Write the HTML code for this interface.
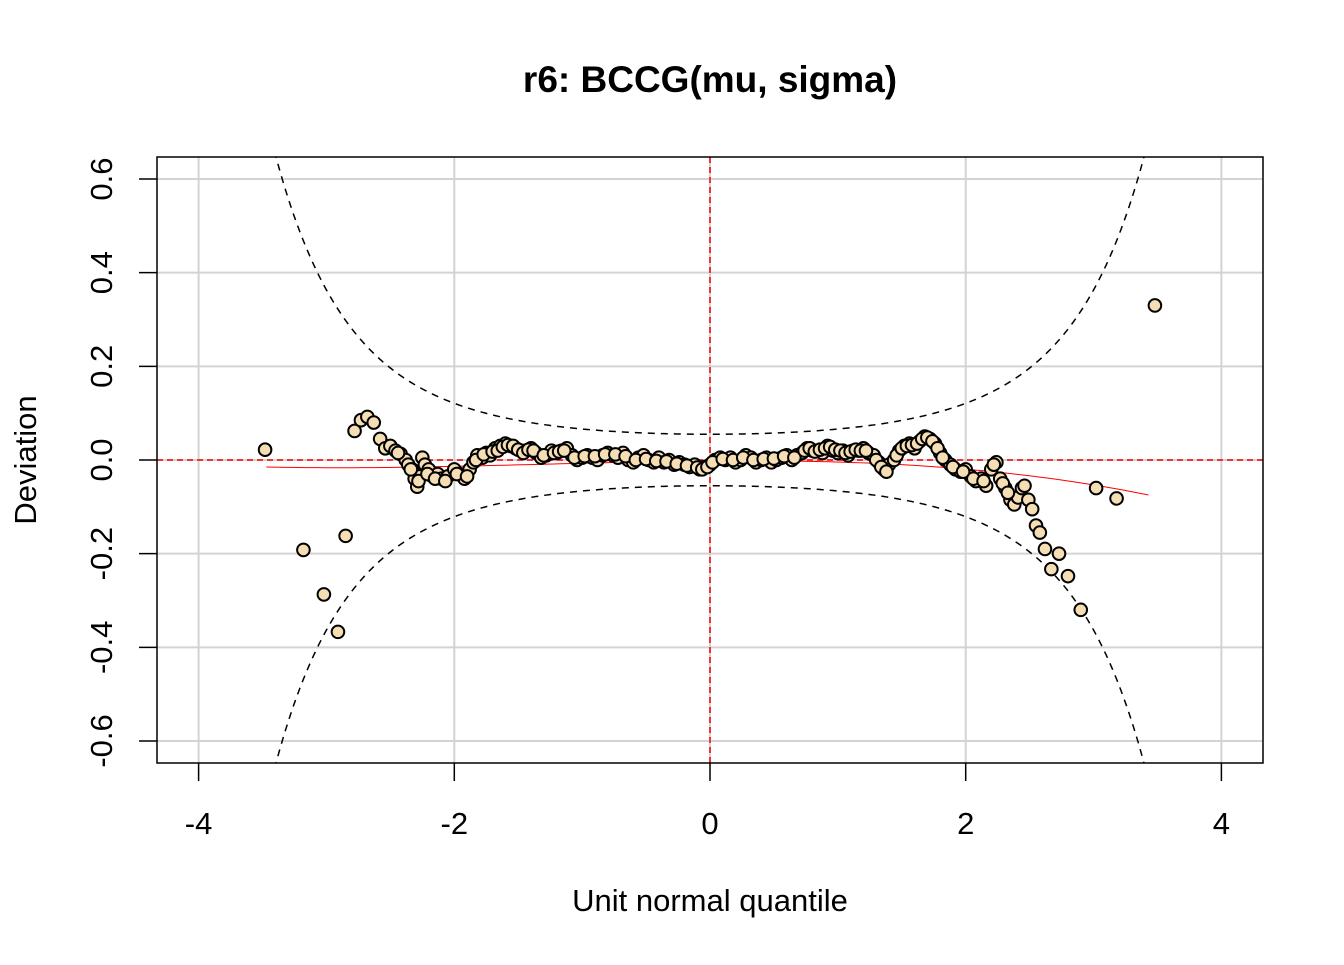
<!DOCTYPE html>
<html><head><meta charset="utf-8"><style>
body{margin:0;background:#fff;}
svg text{font-family:"Liberation Sans",Arial,sans-serif;}
</style></head><body>
<svg id="chart" width="1344" height="960" viewBox="0 0 1344 960" xmlns="http://www.w3.org/2000/svg">
<defs><clipPath id="clip"><rect x="157" y="157" width="1106" height="606"/></clipPath></defs>
<rect width="1344" height="960" fill="#fff"/>
<text x="710" y="92" text-anchor="middle" font-size="37" font-weight="bold">r6: BCCG(mu, sigma)</text>
<text x="710" y="911" text-anchor="middle" font-size="31">Unit normal quantile</text>
<text transform="translate(36,460) rotate(-90)" text-anchor="middle" font-size="31">Deviation</text>
<g id="grid"></g>
<g id="refs"></g>
<g id="bands" clip-path="url(#clip)"></g>
<g id="fit" clip-path="url(#clip)"></g>
<g id="pts"></g>
<rect x="157" y="157" width="1106" height="606" fill="none" stroke="#000" stroke-width="1.5"/>
<g id="axes"></g>
</svg>
<script>
const xTicks=[-4,-2,0,2,4];
const yTicks=[-0.6,-0.4,-0.2,0.0,0.2,0.4,0.6];
const yTickLabels=["-0.6","-0.4","-0.2","0.0","0.2","0.4","0.6"];
const ptX=[-3.48,-3.18,-3.02,-2.91,-2.85,-2.78,-2.73,-2.68,-2.63,-2.58,-2.54,-2.5,-2.46,-2.42,-2.38,-2.36,-2.33,-2.31,-2.29,-2.27,-2.25,-2.23,-2.2,-2.17,-2.13,-2.1,-2.05,-2.0,-1.96,-1.92,-1.88,-1.85,-1.82,-1.78,-1.75,-1.72,-1.68,-1.64,-1.6,-1.56,-1.52,-1.48,-1.44,-1.4,-1.36,-1.32,-1.28,-1.24,-1.2,-1.16,-1.12,-1.08,-1.04,-1.0,-0.96,-0.92,-0.88,-0.84,-0.8,-0.76,-0.72,-0.68,-0.64,-0.6,-0.56,-0.52,-0.48,-0.44,-0.4,-0.36,-0.32,-0.28,-0.24,-0.2,-0.16,-0.12,-0.08,-0.04,0.0,0.04,0.08,0.12,0.16,0.2,0.24,0.28,0.32,0.36,0.4,0.44,0.48,0.52,0.56,0.6,0.64,0.68,0.72,0.76,0.8,0.84,0.88,0.92,0.96,1.0,1.04,1.08,1.12,1.16,1.2,1.24,1.28,1.32,1.36,1.4,1.44,1.48,1.52,1.56,1.6,1.64,1.68,1.72,1.76,1.8,1.84,1.88,1.92,1.96,2.0,2.04,2.08,2.12,2.16,2.2,2.24,2.27,2.31,2.35,2.38,2.41,2.44,2.46,2.49,2.52,2.55,2.58,2.62,2.67,2.73,2.8,2.9,3.02,3.18,3.48,
-2.44,-2.34,-2.28,-2.21,-2.15,-2.07,-1.98,-1.9,-1.83,-1.77,-1.7,-1.66,-1.62,-1.58,-1.54,-1.5,-1.46,-1.42,-1.38,-1.3,-1.22,-1.18,-1.14,-1.06,-0.98,-0.9,-0.82,-0.74,-0.66,-0.58,-0.5,-0.42,-0.34,-0.26,-0.18,-0.1,-0.06,-0.02,0.02,0.1,0.18,0.26,0.34,0.42,0.5,0.58,0.66,0.74,0.78,0.82,0.86,0.9,0.94,0.98,1.02,1.06,1.1,1.14,1.18,1.22,1.3,1.34,1.38,1.46,1.5,1.54,1.58,1.62,1.66,1.7,1.74,1.78,1.82,1.9,1.98,2.06,2.14,2.22,2.29,2.33];
const ptY=[0.022,-0.192,-0.287,-0.367,-0.162,0.062,0.085,0.092,0.08,0.045,0.025,0.03,0.02,0.013,0.0,-0.01,-0.02,-0.04,-0.057,-0.035,0.005,-0.01,-0.02,-0.035,-0.03,-0.04,-0.035,-0.02,-0.03,-0.04,-0.02,-0.005,0.01,0.005,0.015,0.01,0.025,0.03,0.035,0.03,0.025,0.02,0.02,0.025,0.015,0.005,0.01,0.02,0.015,0.02,0.025,0.01,0.0,0.005,0.01,0.005,0.0,0.01,0.015,0.01,0.005,0.015,0.0,-0.005,0.005,0.01,0.0,-0.005,0.005,-0.005,0.0,-0.01,-0.005,-0.01,-0.015,-0.01,-0.02,-0.015,-0.01,0.0,0.005,0.0,0.005,-0.005,0.0,0.01,0.005,-0.005,0.0,0.005,-0.005,0.0,0.005,0.01,0.0,0.01,0.015,0.025,0.02,0.02,0.015,0.03,0.02,0.015,0.02,0.01,0.02,0.02,0.025,0.015,0.01,-0.005,-0.02,-0.01,0.0,0.02,0.03,0.035,0.025,0.04,0.05,0.045,0.035,0.015,0.0,-0.01,-0.02,-0.025,-0.02,-0.035,-0.045,-0.04,-0.055,-0.02,-0.005,-0.04,-0.06,-0.085,-0.095,-0.08,-0.06,-0.055,-0.085,-0.105,-0.14,-0.155,-0.19,-0.233,-0.2,-0.248,-0.32,-0.06,-0.082,0.33,
0.015,-0.02,-0.045,-0.03,-0.04,-0.045,-0.03,-0.035,0.0,0.012,0.018,0.02,0.028,0.032,0.03,0.022,0.015,0.022,0.02,0.01,0.015,0.018,0.02,0.005,0.008,0.008,0.012,0.012,0.008,0.0,0.002,-0.002,-0.003,-0.008,-0.012,-0.016,-0.02,-0.015,-0.005,0.002,0.0,0.005,0.0,0.002,0.003,0.008,0.005,0.02,0.025,0.018,0.022,0.025,0.028,0.022,0.02,0.015,0.018,0.022,0.02,0.02,0.0,-0.015,-0.025,0.01,0.025,0.03,0.032,0.035,0.045,0.048,0.04,0.025,0.005,-0.015,-0.025,-0.04,-0.045,-0.01,-0.05,-0.07];
const fitCoef=[-0.002,0.0022,-0.00365,-0.000925];
const fitRange=[-3.47,3.47];
const nObs=2000;

const NS="http://www.w3.org/2000/svg";
const sx=v=>710+v*127.85, sy=v=>460-v*468.3;
function mk(tag,attrs,parent){const e=document.createElementNS(NS,tag);for(const k in attrs)e.setAttribute(k,attrs[k]);document.getElementById(parent).appendChild(e);return e;}
xTicks.forEach(t=>{
  const g=mk('line',{x1:sx(t),x2:sx(t),y1:157,y2:763,stroke:'#d3d3d3','stroke-width':2},'grid');
  
  
  const tk=mk('line',{x1:sx(t),x2:sx(t),y1:763,y2:781,stroke:'#000','stroke-width':1.5},'axes');
  
  
  const tx=mk('text',{x:sx(t),y:834,'text-anchor':'middle','font-size':31},'axes');
  tx.textContent=String(t);
  
  
});
yTicks.forEach((t,i)=>{
  const g=mk('line',{x1:157,x2:1263,y1:sy(t),y2:sy(t),stroke:'#d3d3d3','stroke-width':2},'grid');
  
  
  const tk=mk('line',{x1:139,x2:157,y1:sy(t),y2:sy(t),stroke:'#000','stroke-width':1.5},'axes');
  
  
  const tx=mk('text',{transform:`translate(112,${sy(t)}) rotate(-90)`,'text-anchor':'middle','font-size':31},'axes');
  tx.textContent=yTickLabels[i];
  
  
});
const h=mk('line',{x1:157,x2:1263,y1:sy(0),y2:sy(0),stroke:'#f00','stroke-width':1.5,'stroke-dasharray':'6,4'},'refs');


const v=mk('line',{x1:sx(0),x2:sx(0),y1:157,y2:763,stroke:'#f00','stroke-width':1.5,'stroke-dasharray':'6,4'},'refs');


function pnorm(z){const t=1/(1+0.2316419*Math.abs(z));const d=0.3989423*Math.exp(-z*z/2);let p=d*t*(0.3193815+t*(-0.3565638+t*(1.781478+t*(-1.821256+t*1.330274))));return z>0?1-p:p;}
function band(z){const p=pnorm(z);const d=Math.exp(-z*z/2)/Math.sqrt(2*Math.PI);return 1.96*Math.sqrt(p*(1-p)/nObs)/d;}
let up=[],lo=[];
for(let z=-3.6;z<=3.6;z+=0.02){up.push(sx(z)+','+sy(band(z)));lo.push(sx(z)+','+sy(-band(z)));}
const bu=mk('polyline',{points:up.join(' '),fill:'none',stroke:'#000','stroke-width':1.5,'stroke-dasharray':'7,6'},'bands');


const bl=mk('polyline',{points:lo.join(' '),fill:'none',stroke:'#000','stroke-width':1.5,'stroke-dasharray':'7,6'},'bands');


let fp=[];
for(let x=fitRange[0];x<=fitRange[1]+1e-9;x+=0.05){const y=fitCoef[0]+fitCoef[1]*x+fitCoef[2]*x*x+fitCoef[3]*x*x*x;fp.push(sx(x)+','+sy(y));}
const fl=mk('polyline',{points:fp.join(' '),fill:'none',stroke:'#f00','stroke-width':1},'fit');


ptX.forEach((x,i)=>{
  const c=mk('circle',{cx:sx(x),cy:sy(ptY[i]),r:6.3,fill:'#f5deb3',stroke:'#000','stroke-width':2},'pts');
  
  
});
</script>
</body></html>
